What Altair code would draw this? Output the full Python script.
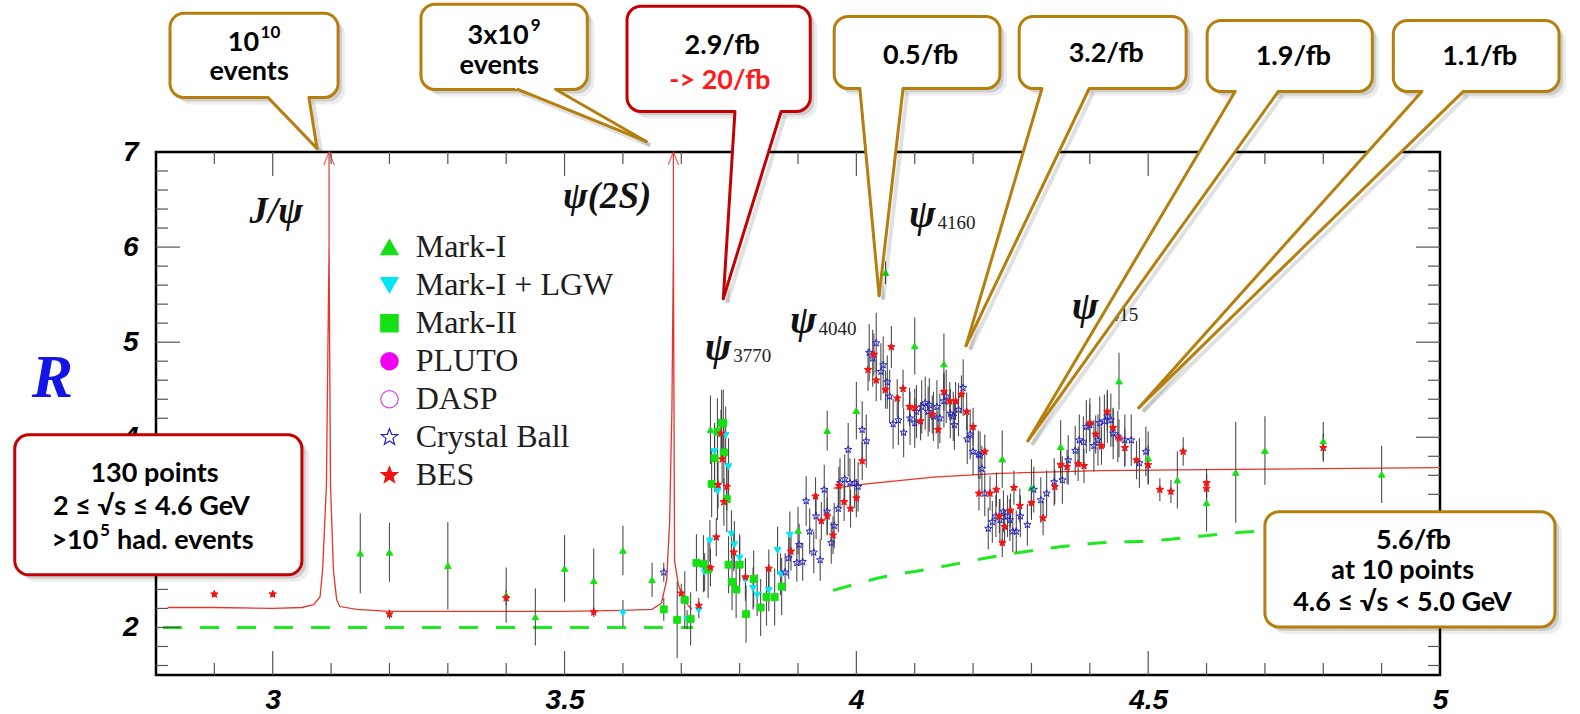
import altair as alt
import numpy as np
import pandas as pd

# R = sigma(e+e- -> hadrons) / sigma(e+e- -> mu+mu-) in the charmonium region
X_MIN, X_MAX = 2.8, 5.0
R_MIN, R_MAX = 1.5, 7.0
PLOT_W, PLOT_H = 1284, 523
GEV_PER_PX = (X_MAX - X_MIN) / PLOT_W
R_PER_PX = (R_MAX - R_MIN) / PLOT_H

# ---------------------------------------------------------------- measurements
markI_x = [3.15, 3.20, 3.30, 3.40, 3.45, 3.50, 3.55, 3.60, 3.65, 3.75, 3.90, 3.95, 4.00, 4.05,
           4.10, 4.15, 4.25, 4.30, 4.35, 4.45, 4.50, 4.55, 4.60, 4.65, 4.70, 4.80, 4.90]
markI_r = [2.78, 2.79, 2.65, 2.34, 2.11, 2.62, 2.49, 2.81, 2.50, 4.08, 3.02, 4.07, 4.28, 5.73,
           4.96, 4.77, 3.77, 3.47, 3.90, 4.59, 3.78, 3.55, 3.31, 3.63, 3.86, 3.96, 3.61]
markI_err = [0.42, 0.31, 0.46, 0.29, 0.30, 0.35, 0.34, 0.26, 0.18, 0.36, 0.25, 0.21, 0.30, 0.12,
             0.30, 0.32, 0.30, 0.30, 0.28, 0.30, 0.28, 0.30, 0.30, 0.53, 0.36, 0.20, 0.30]

lgw_x = [3.600, 3.710, 3.730, 3.740, 3.749, 3.757, 3.762, 3.776, 3.781, 3.786, 3.791, 3.800,
         3.810, 3.823, 3.830, 3.850, 3.865, 3.870, 3.886]
lgw_r = [2.15, 2.08, 2.18, 2.58, 2.91, 3.85, 3.43, 4.02, 3.69, 2.98, 2.87, 2.73,
         2.50, 2.41, 2.34, 2.39, 2.81, 2.56, 2.97]
lgw_err = [0.14, 0.10, 0.08, 0.20, 0.22, 0.30, 0.30, 0.30, 0.30, 0.25, 0.25, 0.25,
           0.22, 0.22, 0.22, 0.22, 0.25, 0.22, 0.25]

markII_x = [3.670, 3.693, 3.706, 3.716, 3.726, 3.738, 3.746, 3.752, 3.757, 3.762, 3.769, 3.772,
            3.773, 3.778, 3.781, 3.787, 3.794, 3.800, 3.811, 3.824, 3.836, 3.846, 3.860, 3.872]
markII_r = [2.19, 2.08, 2.29, 2.09, 2.68, 2.67, 2.61, 3.51, 3.78, 4.06, 4.15, 4.15,
            3.84, 3.35, 2.66, 2.48, 2.40, 2.66, 2.14, 2.51, 2.21, 2.32, 2.32, 2.43]
markII_err = [0.12, 0.40, 0.30, 0.28, 0.30, 0.30, 0.30, 0.35, 0.35, 0.35, 0.35, 0.35,
              0.35, 0.35, 0.30, 0.30, 0.30, 0.30, 0.30, 0.30, 0.30, 0.30, 0.30, 0.30]

cb_x = [3.670, 3.878, 3.884, 3.898, 3.902, 3.908, 3.914, 3.920, 3.927, 3.931,
        3.938, 3.945, 3.950, 3.957, 3.962, 3.969, 3.972, 3.980, 3.986, 3.989,
        3.997, 4.003, 4.010, 4.017, 4.022, 4.028, 4.034, 4.042, 4.046, 4.053,
        4.057, 4.063, 4.072, 4.081, 4.092, 4.100, 4.103, 4.112, 4.118, 4.123,
        4.125, 4.132, 4.138, 4.143, 4.150, 4.154, 4.161, 4.166, 4.168, 4.175,
        4.183, 4.190, 4.195, 4.200, 4.209, 4.212, 4.215, 4.220, 4.226, 4.233,
        4.239, 4.246, 4.252, 4.259, 4.263, 4.268, 4.274, 4.281, 4.293, 4.304,
        4.316, 4.326, 4.339, 4.353, 4.363, 4.375, 4.382, 4.389, 4.394, 4.400,
        4.407, 4.414, 4.417, 4.425, 4.430, 4.436, 4.440, 4.448, 4.460, 4.471,
        4.485, 4.496]
cb_r = [2.58, 2.58, 2.73, 2.68, 2.87, 2.69, 3.33, 3.01, 2.79, 3.17,
        2.71, 3.45, 3.22, 2.89, 3.07, 3.25, 3.52, 3.56, 3.87, 3.52,
        3.52, 3.48, 4.08, 3.96, 4.89, 4.83, 4.99, 4.69, 4.76, 4.58,
        4.43, 4.14, 4.18, 4.05, 4.20, 4.15, 4.27, 4.32, 4.36, 4.27,
        4.34, 4.22, 4.32, 4.20, 4.38, 4.43, 4.25, 4.22, 4.13, 4.29,
        4.52, 3.98, 4.03, 3.85, 3.82, 3.81, 3.67, 3.41, 3.04, 3.11,
        3.17, 3.13, 3.22, 3.17, 3.13, 3.01, 3.01, 3.17, 3.08, 3.45,
        3.34, 3.41, 3.53, 3.55, 3.76, 3.86, 3.97, 3.95, 4.11, 4.13,
        3.91, 3.97, 4.15, 4.17, 4.22, 4.18, 4.04, 4.01, 3.97, 3.97,
        3.73, 3.85]
cb_err = [0.10, 0.20, 0.22, 0.20, 0.22, 0.20, 0.26, 0.24, 0.22, 0.24,
          0.22, 0.26, 0.24, 0.22, 0.24, 0.25, 0.26, 0.26, 0.28, 0.26,
          0.26, 0.26, 0.30, 0.28, 0.30, 0.30, 0.32, 0.30, 0.30, 0.28,
          0.28, 0.26, 0.26, 0.26, 0.28, 0.26, 0.28, 0.28, 0.28, 0.26,
          0.28, 0.26, 0.28, 0.26, 0.28, 0.28, 0.26, 0.26, 0.26, 0.28,
          0.30, 0.26, 0.26, 0.25, 0.25, 0.25, 0.24, 0.24, 0.22, 0.22,
          0.22, 0.22, 0.22, 0.22, 0.22, 0.22, 0.22, 0.22, 0.22, 0.24,
          0.24, 0.24, 0.25, 0.25, 0.26, 0.26, 0.27, 0.27, 0.28, 0.28,
          0.27, 0.27, 0.28, 0.28, 0.28, 0.28, 0.27, 0.27, 0.27, 0.27,
          0.26, 0.26]

bes_x = [2.900, 3.000, 3.200, 3.400, 3.550, 3.700, 3.730, 3.750, 3.760, 3.763,
         3.768, 3.770, 3.773, 3.778, 3.790, 3.810, 3.850, 3.888, 3.930, 3.940,
         3.950, 3.960, 3.970, 3.979, 3.990, 4.000, 4.010, 4.020, 4.030, 4.034,
         4.050, 4.060, 4.070, 4.080, 4.091, 4.100, 4.110, 4.130, 4.140, 4.150,
         4.160, 4.170, 4.180, 4.189, 4.200, 4.210, 4.220, 4.229, 4.240, 4.245,
         4.250, 4.254, 4.264, 4.270, 4.280, 4.300, 4.320, 4.340, 4.350, 4.361,
         4.380, 4.390, 4.400, 4.410, 4.420, 4.430, 4.440, 4.450, 4.460, 4.480,
         4.500, 4.520, 4.539, 4.560, 4.600, 4.600, 4.800]
bes_r = [2.35, 2.35, 2.14, 2.31, 2.16, 2.36, 2.23, 2.63, 2.95, 3.50,
         4.04, 3.77, 3.32, 3.48, 2.79, 2.53, 2.62, 2.80, 3.38, 3.12,
         3.17, 2.97, 3.49, 3.32, 3.25, 3.36, 3.75, 4.71, 4.87, 4.60,
         4.50, 4.95, 4.41, 4.51, 4.32, 4.31, 4.17, 4.24, 4.08, 4.48,
         4.38, 4.38, 4.45, 4.27, 4.11, 3.41, 3.85, 3.41, 3.45, 3.17,
         2.89, 3.06, 3.23, 3.47, 3.28, 3.31, 3.15, 3.48, 3.71, 3.69,
         3.72, 3.70, 4.15, 4.03, 3.91, 4.27, 4.10, 3.99, 3.89, 3.76,
         3.71, 3.45, 3.43, 3.85, 3.52, 3.46, 3.89]
bes_err = [0.03, 0.03, 0.05, 0.08, 0.05, 0.10, 0.08, 0.20, 0.20, 0.25,
           0.25, 0.25, 0.25, 0.25, 0.20, 0.20, 0.20, 0.20, 0.20, 0.20,
           0.20, 0.20, 0.20, 0.20, 0.20, 0.20, 0.20, 0.22, 0.22, 0.22,
           0.20, 0.22, 0.20, 0.20, 0.20, 0.20, 0.20, 0.20, 0.20, 0.20,
           0.20, 0.20, 0.20, 0.20, 0.20, 0.18, 0.18, 0.18, 0.18, 0.18,
           0.15, 0.18, 0.18, 0.18, 0.18, 0.18, 0.18, 0.18, 0.18, 0.18,
           0.18, 0.18, 0.20, 0.20, 0.20, 0.20, 0.20, 0.20, 0.20, 0.20,
           0.20, 0.12, 0.12, 0.15, 0.15, 0.15, 0.15]

# ------------------------------------------------------------ theory curves
theory1_x = [2.82, 2.90, 3.00, 3.05, 3.070, 3.081, 3.0856, 3.092, 3.0965, 3.099, 3.104,
             3.1096, 3.115, 3.144, 3.20, 3.30, 3.40, 3.50, 3.60, 3.650, 3.666, 3.675,
             3.680, 3.684, 3.6865, 3.6885, 3.695, 3.704, 3.718]
theory1_r = [2.21, 2.21, 2.20, 2.21, 2.24, 2.32, 2.61, 3.50, 6.00, 3.50, 2.60,
             2.29, 2.22, 2.19, 2.17, 2.17, 2.17, 2.17, 2.18, 2.19, 2.255, 2.50,
             3.10, 4.30, 6.00, 2.70, 2.45, 2.29, 2.19]
theory2_x = [3.961, 4.018, 4.132, 4.246, 4.418, 4.600, 4.800, 5.000]
theory2_r = [3.465, 3.51, 3.58, 3.62, 3.65, 3.66, 3.67, 3.68]

qpm1_x = [2.812, 3.72]
qpm1_r = [2.0, 2.0]
qpm2_x = [3.96, 4.05, 4.13, 4.25, 4.42, 4.50, 4.66, 4.80, 4.95]
qpm2_r = [2.39, 2.535, 2.62, 2.76, 2.89, 2.91, 3.00, 3.05, 3.09]

peaks_x = [3.0965, 3.6865]        # J/psi and psi(2S): curve clipped at R = 6
peak_top = 6.0

# ------------------------------------------------------------ legend entries
exp_names = ["Mark-I", "Mark-I + LGW", "Mark-II", "PLUTO", "DASP", "Crystal Ball", "BES"]

# ------------------------------------------------------------ resonance labels
res_names = ["J/ψ", "ψ(2S)"]
res_x = [3.006, 3.573]
res_r = [6.37, 6.53]
sub_psi_x = [3.763, 3.909, 4.113, 4.392]
sub_psi_r = [4.94, 5.22, 6.34, 5.37]
sub_psi_txt = ["3770", "4040", "4160", "4415"]

# ------------------------------------------------------------ call-outs
box_x1 = [2.824, 3.254, 3.607, 3.962, 4.279, 4.601, 4.920, 2.558, 4.700]
box_x2 = [3.112, 3.539, 3.921, 4.246, 4.565, 4.884, 5.204, 3.050, 5.197]
box_top = [8.458, 8.553, 8.532, 8.426, 8.426, 8.384, 8.384, 4.026, 3.216]
box_bot = [7.574, 7.658, 7.426, 7.668, 7.668, 7.637, 7.637, 2.553, 2.005]
box_kind = ["lumi", "lumi", "scan", "lumi", "lumi", "lumi", "lumi", "scan", "lumi"]
# each line: list of (text, superscript?) pieces
box_lines = [
    [[("10", 0), ("10", 1)], [("events", 0)]],
    [[("3x10", 0), ("9", 1)], [("events", 0)]],
    [[("2.9/fb", 0)], [("-> 20/fb", 0)]],
    [[("0.5/fb", 0)]], [[("3.2/fb", 0)]], [[("1.9/fb", 0)]], [[("1.1/fb", 0)]],
    [[("130 points", 0)], [("2 ≤ √s ≤ 4.6 GeV", 0)], [(">10", 0), ("5", 1), (" had. events", 0)]],
    [[("5.6/fb", 0)], [("at 10 points", 0)], [("4.6 ≤ √s < 5.0 GeV", 0)]],
]
box_line_r = [[8.142, 7.837], [8.216, 7.900], [8.111, 7.742], [8.005], [8.026], [7.995],
              [7.995], [3.616, 3.268, 2.911], [2.911, 2.595, 2.258]]
box_line_hot = [[0, 0], [0, 0], [0, 1], [0], [0], [0], [0], [0, 0, 0], [0, 0, 0]]

# pointer tails: base on the box bottom, tip on the plot
tail_box = [0, 1, 2, 3, 4, 5, 6]
tail_l = [2.992, 3.420, 3.792, 4.006, 4.318, 4.649, 4.969]
tail_r = [3.062, 3.485, 3.871, 4.080, 4.399, 4.723, 5.040]
tip_x = [3.076, 3.640, 3.772, 4.039, 4.188, 4.294, 4.484]
tip_r = [7.037, 7.111, 5.458, 5.489, 4.963, 3.963, 4.311]

# ------------------------------------------------------------ styling
GREEN, CYAN, MAGENTA = "#14e014", "#00e6f2", "#f000f0"
BLUE_STAR, RED_STAR = "#2323cf", "#f01414"
CURVE_RED = "#e8342c"
BROWN, DARK_RED, HOT_RED = "#b57f0e", "#c40000", "#ff1a1a"
BOX_FONT, BOX_SIZE, SUP_SIZE = "Lato", 27, 17

ang_out = np.deg2rad(-90 + 72 * np.arange(5))
star_pts = []
for a in ang_out:
    star_pts.append((np.cos(a), np.sin(a)))
    b = a + np.deg2rad(36)
    star_pts.append((0.42 * np.cos(b), 0.42 * np.sin(b)))
STAR = "M" + " L".join(f"{u:.3f},{v:.3f}" for u, v in star_pts) + " Z"
CHEVRON = "M-0.4,0.5 L0,-0.5 L0.4,0.5"

exp_shapes = ["triangle-up", "triangle-down", "square", "circle", "circle", STAR, STAR]
exp_fills = [GREEN, CYAN, GREEN, MAGENTA, "transparent", "transparent", RED_STAR]
exp_strokes = [GREEN, CYAN, GREEN, MAGENTA, "#e040e0", BLUE_STAR, RED_STAR]
exp_sizes = [42, 60, 72, 60, 60, 115, 90]

shape_scale = alt.Scale(domain=exp_names, range=exp_shapes)
fill_scale = alt.Scale(domain=exp_names, range=exp_fills)
stroke_scale = alt.Scale(domain=exp_names, range=exp_strokes)
size_scale = alt.Scale(domain=exp_names, range=exp_sizes)

x_scale = alt.Scale(domain=[X_MIN, X_MAX], nice=False, zero=False)
y_scale = alt.Scale(domain=[R_MIN, R_MAX], nice=False, zero=False)

LABEL_FONT = "Liberation Sans"
axis_x = alt.Axis(values=[3, 3.5, 4, 4.5, 5], format="~g", ticks=False, domain=False,
                  grid=False, labelFlush=False, labelPadding=11, title=None,
                  labelFont=LABEL_FONT, labelFontSize=28, labelFontWeight="bold",
                  labelFontStyle="italic", labelColor="black")
axis_y = alt.Axis(values=[2, 3, 4, 5, 6, 7], format="d", ticks=False, domain=False,
                  grid=False, labelFlush=False, labelPadding=18,
                  labelFont=LABEL_FONT, labelFontSize=28, labelFontWeight="bold",
                  labelFontStyle="italic", labelColor="black",
                  title="R", titleAngle=0, titleX=-104, titleY=225,
                  titleAlign="center", titleBaseline="middle",
                  titleFont="Liberation Serif", titleFontSize=62,
                  titleFontStyle="italic", titleFontWeight="bold", titleColor="#1414e6")


def ex(field):
    return alt.X(f"{field}:Q", scale=x_scale, axis=axis_x)


def ey(field):
    return alt.Y(f"{field}:Q", scale=y_scale, axis=axis_y)


# ------------------------------------------------------------ tables
def exp_frame(name, xs, rs, es):
    return pd.DataFrame({"exp": name, "x": xs, "r": rs,
                         "lo": np.subtract(rs, es), "hi": np.add(rs, es)})


meas = pd.concat([
    exp_frame("Mark-I", markI_x, markI_r, markI_err),
    exp_frame("Mark-I + LGW", lgw_x, lgw_r, lgw_err),
    exp_frame("Mark-II", markII_x, markII_r, markII_err),
    exp_frame("Crystal Ball", cb_x, cb_r, cb_err),
    exp_frame("BES", bes_x, bes_r, bes_err),
], ignore_index=True)

theory = pd.concat([
    pd.DataFrame({"seg": "a", "x": theory1_x, "r": theory1_r}),
    pd.DataFrame({"seg": "b", "x": theory2_x, "r": theory2_r}),
], ignore_index=True)
qpm = pd.concat([
    pd.DataFrame({"seg": "a", "x": qpm1_x, "r": qpm1_r}),
    pd.DataFrame({"seg": "b", "x": qpm2_x, "r": qpm2_r}),
], ignore_index=True)
peaks = pd.DataFrame({"x": peaks_x, "lo": peak_top, "hi": R_MAX})

# inward frame ticks
x_major = [3.0, 3.5, 4.0, 4.5]
x_minor = [2.9, 3.1, 3.2, 3.3, 3.4, 3.6, 3.7, 3.8, 3.9, 4.1, 4.2, 4.3, 4.4, 4.6, 4.7, 4.8, 4.9]
y_major = [2, 3, 4, 5, 6]
y_minor = [1.6, 1.8, 2.2, 2.4, 2.6, 2.8, 3.2, 3.4, 3.6, 3.8, 4.2, 4.4, 4.6, 4.8,
           5.2, 5.4, 5.6, 5.8, 6.2, 6.4, 6.6, 6.8]
MAJOR_PX, MINOR_PX = 24, 12
xt = pd.DataFrame({"t": x_major + x_minor,
                   "len": [MAJOR_PX] * len(x_major) + [MINOR_PX] * len(x_minor)})
yt = pd.DataFrame({"t": y_major + y_minor,
                   "len": [MAJOR_PX] * len(y_major) + [MINOR_PX] * len(y_minor)})
ticks_x = pd.concat([
    pd.DataFrame({"x": xt.t, "y": R_MIN, "y2": R_MIN + xt.len * R_PER_PX}),
    pd.DataFrame({"x": xt.t, "y": R_MAX, "y2": R_MAX - xt.len * R_PER_PX}),
], ignore_index=True)
ticks_y = pd.concat([
    pd.DataFrame({"y": yt.t, "x": X_MIN, "x2": X_MIN + yt.len * GEV_PER_PX}),
    pd.DataFrame({"y": yt.t, "x": X_MAX, "x2": X_MAX - yt.len * GEV_PER_PX}),
], ignore_index=True)

LEG_X, LEG_TOP, LEG_STEP, LEG_TEXT_DX = 3.2, 6.0, 0.4, 0.045
legend_df = pd.DataFrame({"exp": exp_names, "x": LEG_X,
                          "r": [LEG_TOP - i * LEG_STEP for i in range(len(exp_names))]})
legend_df["xt"] = legend_df.x + LEG_TEXT_DX

boxes = pd.DataFrame({"x1": box_x1, "x2": box_x2, "top": box_top, "bot": box_bot,
                      "edge": [BROWN if k == "lumi" else DARK_RED for k in box_kind]})
SHADOW = [(4, 0.13), (7, 0.07)]
shadow_boxes = pd.concat([
    pd.DataFrame({"x1": boxes.x1 + d * GEV_PER_PX, "x2": boxes.x2 + d * GEV_PER_PX,
                  "top": boxes.top - d * R_PER_PX, "bot": boxes.bot - d * R_PER_PX, "op": o})
    for d, o in SHADOW], ignore_index=True)


# lay out call-out text pieces left to right (approximate advance widths in em)
def text_em(s):
    w = 0.0
    for ch in s:
        if ch in " .,/il|f":
            w += 0.27
        elif ch in "≤<>√" or ch.isdigit():
            w += 0.58
        elif ch in "mwGMVW":
            w += 0.8
        else:
            w += 0.55
    return w


text_rows = []
for i, lines in enumerate(box_lines):
    cx = 0.5 * (box_x1[i] + box_x2[i])
    for pieces, rr, hot in zip(lines, box_line_r[i], box_line_hot[i]):
        sizes = [SUP_SIZE if s else BOX_SIZE for _, s in pieces]
        widths = [text_em(t) * sz + (1.5 if s else 0.0)
                  for (t, s), sz in zip(pieces, sizes)]
        start = -0.5 * sum(widths)
        for (t, s), w, sz in zip(pieces, widths, sizes):
            lead = (len(t) - len(t.lstrip())) * 0.27 * sz + (1.5 if s else 0.0)
            text_rows.append({"x": cx + (start + lead) * GEV_PER_PX,
                              "r": rr + (10 * R_PER_PX if s else 0.0),
                              "txt": t.strip(), "sup": s,
                              "col": HOT_RED if hot else "black"})
            start += w
box_text = pd.DataFrame(text_rows)

tail_fill_rows, tail_edge_rows = [], []
INTO_BOX = 6 * R_PER_PX
for k, b in enumerate(tail_box):
    by = box_bot[b]
    ext = INTO_BOX / (by - tip_r[k])
    xl = tail_l[k] + (tail_l[k] - tip_x[k]) * ext
    xr = tail_r[k] + (tail_r[k] - tip_x[k]) * ext
    tail_fill_rows += [{"tid": k, "r": by + INTO_BOX, "xa": xl, "xb": xr},
                       {"tid": k, "r": tip_r[k], "xa": tip_x[k], "xb": tip_x[k]}]
    col = BROWN if box_kind[b] == "lumi" else DARK_RED
    for xe in (tail_l[k], tail_r[k]):
        tail_edge_rows.append({"x": xe, "r": by, "x2": tip_x[k], "r2": tip_r[k], "col": col})
tail_fill = pd.DataFrame(tail_fill_rows)
tail_edges = pd.DataFrame(tail_edge_rows)
tail_shadow = tail_edges.assign(x=tail_edges.x + 4 * GEV_PER_PX,
                                x2=tail_edges.x2 + 4 * GEV_PER_PX,
                                r=tail_edges.r - 4 * R_PER_PX,
                                r2=tail_edges.r2 - 4 * R_PER_PX)

res_df = pd.DataFrame({"x": res_x, "r": res_r, "txt": res_names})
psi_df = pd.DataFrame({"x": sub_psi_x, "r": sub_psi_r, "txt": sub_psi_txt})
psi_df["xs"] = psi_df.x + 0.026
psi_df["rs"] = psi_df.r - 0.085

# ------------------------------------------------------------ layers
theory_layer = alt.Chart(theory).mark_line(color=CURVE_RED, strokeWidth=1.3).encode(
    x=ex("x"), y=ey("r"), detail="seg:N")
qpm_layer = alt.Chart(qpm).mark_line(color="#1ee81e", strokeWidth=3, strokeDash=[19, 18],
                                     interpolate="monotone").encode(
    x=ex("x"), y=ey("r"), detail="seg:N")

arrow_shaft = alt.Chart(peaks).mark_rule(color=CURVE_RED, strokeWidth=1.2).encode(
    x=ex("x"), y=ey("lo"), y2="hi:Q")
arrow_head = alt.Chart(peaks).mark_point(shape=CHEVRON, size=676, filled=False,
                                         color=CURVE_RED, strokeWidth=1.3,
                                         yOffset=6.5).encode(x=ex("x"), y=ey("hi"))

tick_x_layer = alt.Chart(ticks_x).mark_rule(color="#555555", strokeWidth=1.2).encode(
    x=ex("x"), y=ey("y"), y2="y2:Q")
tick_y_layer = alt.Chart(ticks_y).mark_rule(color="#555555", strokeWidth=1.2).encode(
    y=ey("y"), x=ex("x"), x2="x2:Q")

errbars = alt.Chart(meas).mark_rule(color="#3a3a3a", strokeWidth=1.1, opacity=0.9).encode(
    x=ex("x"), y=ey("lo"), y2="hi:Q")
points = alt.Chart(meas).mark_point(filled=True, strokeWidth=1.0, opacity=1).encode(
    x=ex("x"), y=ey("r"),
    shape=alt.Shape("exp:N", scale=shape_scale, legend=None),
    fill=alt.Fill("exp:N", scale=fill_scale, legend=None),
    stroke=alt.Stroke("exp:N", scale=stroke_scale, legend=None),
    size=alt.Size("exp:N", scale=size_scale, legend=None),
)

legend_sym = alt.Chart(legend_df).mark_point(filled=True, size=300, strokeWidth=1.2,
                                             opacity=1).encode(
    x=ex("x"), y=ey("r"),
    shape=alt.Shape("exp:N", scale=shape_scale, legend=None),
    fill=alt.Fill("exp:N", scale=fill_scale, legend=None),
    stroke=alt.Stroke("exp:N", scale=stroke_scale, legend=None),
)
legend_txt = alt.Chart(legend_df).mark_text(font="Liberation Serif", fontSize=32,
                                            align="left", baseline="middle",
                                            color="#1e1e1e").encode(
    x=ex("xt"), y=ey("r"), text="exp:N")

res_layer = alt.Chart(res_df).mark_text(font="Liberation Serif", fontSize=37,
                                        fontStyle="italic", fontWeight="bold",
                                        align="center", baseline="middle",
                                        color="#111111").encode(
    x=ex("x"), y=ey("r"), text="txt:N")
psi_layer = alt.Chart(psi_df).mark_text(font="Liberation Serif", fontSize=40,
                                        fontStyle="italic", fontWeight="bold",
                                        align="center", baseline="middle",
                                        color="#111111", text="ψ").encode(
    x=ex("x"), y=ey("r"))
psi_sub = alt.Chart(psi_df).mark_text(font="Liberation Serif", fontSize=19,
                                      align="left", baseline="middle",
                                      color="#222222").encode(
    x=ex("xs"), y=ey("rs"), text="txt:N")

box_shadow = alt.Chart(shadow_boxes).mark_rect(cornerRadius=14, color="black").encode(
    x=ex("x1"), x2="x2:Q", y=ey("top"), y2="bot:Q",
    opacity=alt.Opacity("op:Q", scale=None))
tail_shadow_layer = alt.Chart(tail_shadow).mark_rule(color="black", strokeWidth=4,
                                                     opacity=0.12).encode(
    x=ex("x"), x2="x2:Q", y=ey("r"), y2="r2:Q")
box_layer = alt.Chart(boxes).mark_rect(cornerRadius=14, fill="white",
                                       strokeWidth=3).encode(
    x=ex("x1"), x2="x2:Q", y=ey("top"), y2="bot:Q",
    stroke=alt.Stroke("edge:N", scale=None))
tail_fill_layer = alt.Chart(tail_fill).mark_area(orient="horizontal", color="white",
                                                 opacity=1).encode(
    y=ey("r"), x=ex("xa"), x2="xb:Q", detail="tid:N")
tail_edge_layer = alt.Chart(tail_edges).mark_rule(strokeWidth=3, strokeCap="round").encode(
    x=ex("x"), x2="x2:Q", y=ey("r"), y2="r2:Q",
    color=alt.Color("col:N", scale=None))
box_text_main = alt.Chart(box_text).transform_filter("datum.sup == 0").mark_text(
    font=BOX_FONT, fontSize=BOX_SIZE, fontWeight="bold", align="left",
    baseline="middle").encode(
    x=ex("x"), y=ey("r"), text="txt:N", color=alt.Color("col:N", scale=None))
box_text_sup = alt.Chart(box_text).transform_filter("datum.sup == 1").mark_text(
    font=BOX_FONT, fontSize=SUP_SIZE, fontWeight="bold", align="left",
    baseline="middle").encode(
    x=ex("x"), y=ey("r"), text="txt:N", color=alt.Color("col:N", scale=None))

chart = alt.layer(
    theory_layer, qpm_layer, arrow_shaft, arrow_head, tick_x_layer, tick_y_layer,
    errbars, points, legend_sym, legend_txt, res_layer, psi_layer, psi_sub,
    tail_shadow_layer, box_shadow, box_layer, tail_fill_layer, tail_edge_layer,
    box_text_main, box_text_sup,
).properties(
    width=PLOT_W, height=PLOT_H,
    padding={"left": 156, "top": 152, "right": 140, "bottom": 39},
    autosize=alt.AutoSizeParams(type="none"),
    background="white",
).configure_view(stroke="black", strokeWidth=2.5)

chart.save("out.html", embed_options={"renderer": "svg", "actions": False})
